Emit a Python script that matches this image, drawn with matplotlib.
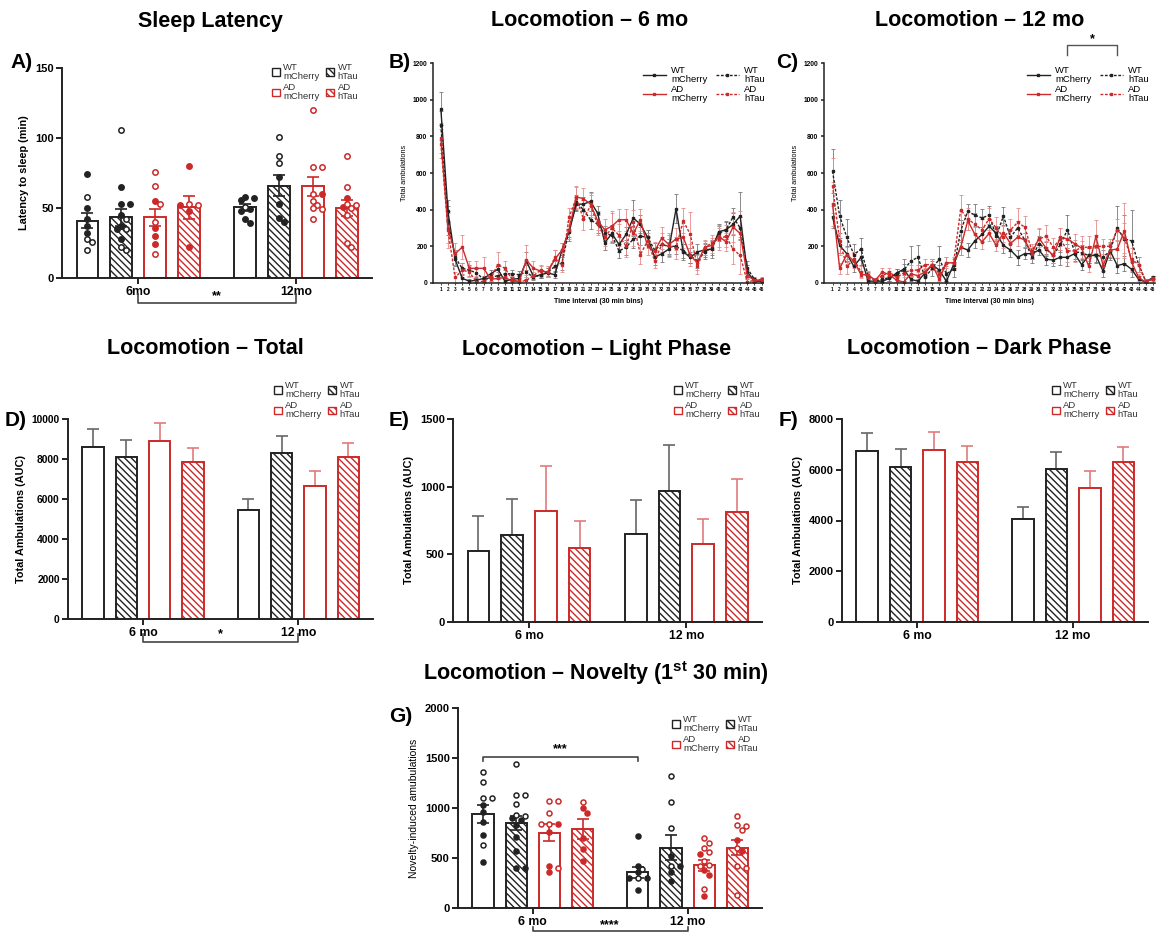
import numpy as np
import matplotlib
matplotlib.use("Agg")
import matplotlib.pyplot as plt
import matplotlib.transforms as mtransforms
from matplotlib.patches import Patch
from matplotlib.lines import Line2D

plt.rcParams['font.family'] = ['Liberation Sans', 'DejaVu Sans']
plt.rcParams['hatch.linewidth'] = 1.0
plt.rcParams['mathtext.fontset'] = 'custom'
plt.rcParams['mathtext.bf'] = 'Liberation Sans:bold'
plt.rcParams['mathtext.rm'] = 'Liberation Sans'

RED = '#cc2a2a'
INK = '#222222'

groups = ['WT\nmCherry', 'WT\nhTau', 'AD\nmCherry', 'AD\nhTau']
ages_a = ['6mo', '12mo']
ages = ['6 mo', '12 mo']

# ---- A) sleep latency (min) ----
lat_6mo_mean = [41, 43.5, 43.5, 50.5]
lat_6mo_sem = [5.5, 6, 6, 8]
lat_12mo_mean = [50.5, 66, 65.5, 50]
lat_12mo_sem = [2.5, 7.5, 7, 5.5]
lat_6mo_filled = [[74, 50, 42, 37, 32], [65, 53, 53, 45, 37, 35, 28], [55, 36, 30, 24], [80, 52, 48, 22]]
lat_6mo_open = [[58, 28, 26, 20], [106, 42, 35, 22, 20], [76, 66, 53, 40, 17], [53, 52]]
lat_12mo_filled = [[56, 57, 58, 49, 48, 42, 39], [72, 53, 43, 40], [60], [57, 51]]
lat_12mo_open = [[51], [101, 87, 82], [120, 79, 79, 60, 55, 52, 50, 49, 42], [87, 65, 53, 52, 50, 45, 25, 22]]

# ---- B) / C) time course, 46 x 30 min bins ----
bins = np.arange(1, 47)
b_wt_mch = [950, 390, 130, 25, 10, 15, 25, 50, 75, 10, 20, 25, 120, 35, 45, 55, 45, 180, 280, 430, 430, 445, 380, 220,
            270, 210, 265, 355, 320, 250, 140, 160, 185, 405, 170, 140, 170, 180, 185, 280, 290, 320, 365, 60, 10, 10]
b_wt_htau = [860, 340, 140, 80, 70, 55, 20, 30, 40, 50, 50, 45, 60, 30, 45, 60, 90, 110, 290, 440, 400, 345, 320, 270,
             260, 175, 195, 240, 255, 250, 180, 210, 200, 200, 175, 150, 120, 170, 190, 270, 290, 360, 300, 80, 20, 15]
b_ad_mch = [790, 300, 160, 195, 80, 80, 80, 20, 25, 30, 10, 10, 125, 80, 65, 60, 130, 180, 290, 470, 460, 430, 340, 290,
            310, 345, 345, 270, 345, 200, 175, 245, 210, 240, 250, 150, 110, 195, 205, 255, 225, 305, 270, 40, 15, 15]
b_ad_htau = [760, 290, 30, 70, 60, 5, 10, 30, 100, 80, 20, 5, 15, 40, 70, 60, 140, 100, 360, 465, 350, 420, 320, 250,
             300, 260, 200, 330, 155, 230, 120, 210, 200, 190, 340, 265, 90, 190, 220, 240, 255, 185, 150, 5, 15, 20]
b_wt_mch_sem = [90, 60, 40, 20, 10, 10, 15, 20, 30, 10, 10, 15, 50, 15, 20, 25, 20, 40, 50, 40, 40, 50, 40, 40,
                45, 40, 40, 100, 50, 40, 40, 45, 40, 80, 45, 30, 40, 40, 50, 40, 40, 60, 130, 40, 10, 10]
b_wt_htau_sem = [80, 80, 40, 30, 30, 20, 15, 20, 20, 20, 20, 20, 40, 15, 20, 20, 30, 40, 40, 40, 50, 50, 50, 40,
                 40, 40, 40, 50, 50, 40, 40, 40, 40, 40, 40, 40, 40, 40, 40, 40, 50, 50, 60, 40, 10, 10]
b_ad_mch_sem = [80, 80, 60, 65, 40, 40, 60, 30, 20, 20, 10, 10, 80, 40, 30, 30, 50, 40, 50, 60, 60, 60, 50, 60,
                80, 60, 60, 70, 60, 50, 50, 60, 60, 60, 60, 60, 40, 40, 40, 60, 50, 80, 120, 30, 10, 10]
b_ad_htau_sem = [80, 100, 30, 40, 30, 10, 10, 20, 70, 40, 20, 10, 20, 20, 30, 30, 40, 40, 50, 60, 60, 60, 60, 50,
                 80, 60, 60, 70, 50, 40, 40, 60, 60, 60, 70, 120, 40, 40, 40, 60, 60, 80, 100, 20, 10, 10]

c_wt_mch = [360, 205, 160, 90, 140, 10, 10, 10, 25, 55, 75, 20, 10, 55, 100, 70, 10, 100, 195, 180, 230, 265, 310, 270,
            205, 180, 140, 160, 160, 180, 130, 125, 140, 140, 160, 100, 150, 150, 65, 175, 95, 105, 75, 20, 5, 30]
c_wt_htau = [610, 365, 250, 155, 185, 40, 10, 20, 30, 45, 70, 120, 140, 30, 80, 130, 50, 75, 285, 390, 370, 355, 370,
             255, 365, 250, 300, 235, 140, 215, 185, 150, 210, 290, 170, 165, 150, 155, 140, 175, 300, 240, 230, 100, 10, 20]
c_ad_mch = [430, 80, 155, 120, 45, 45, 15, 60, 45, 15, 5, 50, 40, 60, 100, 20, 110, 110, 195, 340, 265, 225, 270, 205,
            275, 215, 250, 235, 160, 245, 190, 150, 250, 240, 215, 190, 90, 255, 95, 180, 185, 285, 115, 30, 5, 25]
c_ad_htau = [530, 230, 90, 130, 60, 35, 15, 40, 60, 30, 55, 70, 70, 100, 100, 50, 110, 110, 400, 350, 320, 290, 350,
             300, 250, 290, 330, 305, 175, 240, 255, 195, 240, 175, 175, 195, 195, 200, 200, 200, 290, 245, 130, 100, 10, 20]
c_wt_mch_sem = [60, 40, 40, 30, 40, 10, 10, 10, 15, 20, 30, 10, 10, 20, 30, 30, 10, 30, 40, 40, 40, 40, 40, 40,
                40, 40, 40, 30, 30, 30, 30, 30, 40, 50, 40, 30, 40, 40, 30, 40, 40, 40, 40, 20, 5, 10]
c_wt_htau_sem = [120, 90, 100, 60, 60, 20, 10, 15, 20, 30, 60, 80, 65, 30, 40, 70, 40, 40, 60, 40, 60, 50, 50, 40,
                 50, 40, 40, 40, 30, 40, 40, 40, 40, 80, 40, 40, 40, 40, 40, 50, 120, 130, 170, 40, 10, 20]
c_ad_mch_sem = [120, 30, 40, 40, 20, 20, 10, 20, 20, 10, 5, 20, 20, 20, 30, 10, 30, 30, 40, 50, 40, 40, 40, 30,
                50, 40, 50, 40, 30, 50, 40, 40, 50, 50, 50, 40, 30, 90, 30, 40, 50, 150, 50, 20, 5, 15]
c_ad_htau_sem = [150, 80, 40, 40, 30, 20, 10, 20, 20, 15, 20, 30, 30, 30, 30, 20, 30, 30, 80, 60, 60, 60, 60, 60,
                 60, 60, 80, 60, 40, 60, 60, 50, 60, 60, 60, 60, 60, 60, 40, 40, 60, 80, 60, 40, 10, 20]

# ---- D) / E) / F) AUC ----
tot_mean = [8600, 8100, 8900, 7850, 5450, 8280, 6650, 8100]
tot_sem = [900, 850, 900, 700, 550, 870, 750, 680]
light_mean = [525, 645, 820, 545, 650, 965, 575, 815]
light_sem = [255, 265, 330, 200, 250, 345, 185, 245]
dark_mean = [6750, 6120, 6770, 6300, 4070, 6020, 5270, 6320]
dark_sem = [700, 680, 710, 620, 450, 680, 680, 580]

# ---- G) novelty, first 30 min ----
nov_6mo_mean = [945, 855, 755, 795]
nov_6mo_sem = [90, 70, 85, 100]
nov_12mo_mean = [360, 605, 430, 605]
nov_12mo_sem = [55, 125, 55, 75]
nov_6mo_filled = [[1030, 960, 860, 730, 460], [900, 880, 830, 710, 570, 400, 400], [840, 760, 420, 360],
                  [1000, 950, 700, 590, 470]]
nov_6mo_open = [[1360, 1260, 1100, 1100, 630], [1440, 1130, 1130, 1040, 930, 920], [1070, 1070, 950, 840, 840, 400],
                [1060]]
nov_12mo_filled = [[720, 420, 360, 300, 300, 180], [520, 420, 360, 270], [540, 380, 330, 120], [680, 570]]
nov_12mo_open = [[390, 300], [1320, 1060, 800, 420], [700, 650, 600, 560, 470, 430, 420, 190],
                 [920, 830, 820, 780, 600, 420, 400, 130]]

W, H = 1158, 933
fig = plt.figure(figsize=(W / 100, H / 100), dpi=100)


def px_ax(x0, y0, x1, y1):
    return fig.add_axes([x0 / W, 1 - y1 / H, (x1 - x0) / W, (y1 - y0) / H])


def fig_text(x, y, s, **kw):
    fig.text(x / W, 1 - y / H, s, ha='center', va='center', **kw)


edge_cols = [INK, INK, RED, RED]
light_cols = ['#666666', '#666666', '#e07b7b', '#e07b7b']
hatches = [None, '\\\\\\\\\\', None, '\\\\\\\\\\']
pos = np.array([0, 1, 2, 3, 4.66, 5.66, 6.66, 7.66])
centers = [1.5, 6.16]
XLIM = (-0.75, 8.4)
BW = 0.64


def style_axes(ax, lw=1.4):
    for s in ['top', 'right']:
        ax.spines[s].set_visible(False)
    for s in ['left', 'bottom']:
        ax.spines[s].set_linewidth(lw)
        ax.spines[s].set_color(INK)
    ax.tick_params(direction='out', width=lw, color=INK)


def bar_legend(ax, x, y):
    hs = [Patch(facecolor='white', edgecolor=edge_cols[i], hatch=hatches[i], lw=1.0) for i in range(4)]
    order = [0, 2, 1, 3]
    leg = ax.legend([hs[i] for i in order], [groups[i] for i in order], ncol=2, loc='upper left',
                    bbox_to_anchor=(x / W, 1 - y / H), bbox_transform=fig.transFigure, frameon=False,
                    fontsize=6.8, handlelength=0.8, handleheight=0.8, handletextpad=0.4, columnspacing=0.7,
                    labelspacing=0.3, borderpad=0, borderaxespad=0)
    for t in leg.get_texts():
        t.set_color('#333333')
        t.set_linespacing(0.95)


def bars(ax, means, sems, upper_only):
    for i, (m, s) in enumerate(zip(means, sems)):
        g = i % 4
        ax.bar(pos[i], m, BW, facecolor='white', edgecolor=edge_cols[g], hatch=hatches[g], lw=1.4, zorder=2)
        if upper_only:
            ax.errorbar(pos[i], m, yerr=[[0], [s]], fmt='none', ecolor=light_cols[g], elinewidth=1.2,
                        capsize=4.5, capthick=1.2, zorder=1)
        else:
            ax.errorbar(pos[i], m, yerr=s, fmt='none', ecolor=edge_cols[g], elinewidth=1.2,
                        capsize=4.5, capthick=1.2, zorder=4)


def swarm(vals, ax_w, ax_h, ymax, d=5.2, half=10.0):
    # simple deterministic beeswarm kept inside the bar, returns x offsets in data units
    xs = ax_w / (XLIM[1] - XLIM[0])
    ys = ax_h / ymax
    order = np.argsort(vals)[::-1]
    placed = []
    offs = np.zeros(len(vals))
    step = d * 0.85
    cands = [k * step for k in [0, 1, -1, 2, -2, 3, -3] if abs(k * step) <= half]
    for i in order:
        yp = vals[i] * ys
        best, bestd = 0.0, -1
        for xo in cands:
            md = min([np.hypot(xo - px, yp - py) for px, py in placed] + [99])
            if md >= d:
                best = xo
                break
            if md > bestd:
                best, bestd = xo, md
        placed.append((best, yp))
        offs[i] = best / xs
    return offs


def points(ax, filled, opened, base, ax_w, ax_h, ymax, ms):
    for g in range(4):
        vals = np.array(filled[g] + opened[g], dtype=float)
        kind = [True] * len(filled[g]) + [False] * len(opened[g])
        offs = swarm(vals, ax_w, ax_h, ymax)
        for v, o, k in zip(vals, offs, kind):
            ax.scatter(pos[base + g] + o, v, s=ms, facecolor=edge_cols[g] if k else 'white',
                       edgecolor=edge_cols[g], lw=1.1, zorder=5, clip_on=False)


def bracket(ax, x0, x1, y, tick, label, ty, fs=9):
    tr = mtransforms.blended_transform_factory(ax.transData, ax.transAxes)
    ax.plot([x0, x0, x1, x1], [y + tick, y, y, y + tick], color='#444444', lw=1.2, transform=tr, clip_on=False)
    ax.text((x0 + x1) / 2, ty, label, transform=tr, ha='center', va='center', fontsize=fs, fontweight='bold')


def bar_axis(ax, ymax, yticks, xlabels, ylabel, ylw='bold', yfs=7.8, tfs=8):
    ax.set_xlim(*XLIM)
    ax.set_ylim(0, ymax)
    ax.set_yticks(yticks)
    ax.set_xticks(centers)
    ax.set_xticklabels(xlabels, fontsize=8.8, fontweight='bold')
    for t in ax.get_yticklabels():
        t.set_fontweight('bold')
        t.set_fontsize(tfs)
    ax.set_ylabel(ylabel, fontsize=yfs, fontweight=ylw)
    style_axes(ax)
    ax.tick_params(length=4, pad=2)


# ---- A ----
axA = px_ax(62, 68, 372, 278)
bars(axA, lat_6mo_mean + lat_12mo_mean, lat_6mo_sem + lat_12mo_sem, False)
points(axA, lat_6mo_filled, lat_6mo_open, 0, 310, 210, 150, 15)
points(axA, lat_12mo_filled, lat_12mo_open, 4, 310, 210, 150, 15)
bar_axis(axA, 150, [0, 50, 100, 150], ages_a, 'Latency to sleep (min)')
bar_legend(axA, 272, 63)
bracket(axA, centers[0], centers[1], -0.119, 0.045, '**', -0.085)


# ---- B / C ----
def line_panel(ax, series, sems):
    styles = [(INK, '-'), (INK, (0, (2, 1.2))), (RED, '-'), (RED, (0, (2, 1.2)))]
    ecols = ['#777777', '#777777', '#e58a8a', '#e58a8a']
    for (c, ls), y, e, ec in zip(styles, series, sems, ecols):
        ax.errorbar(bins, y, yerr=e, color=c, ls=ls, lw=1.0, marker='s', ms=2, ecolor=ec,
                    elinewidth=0.6, capsize=1.3, capthick=0.6)
    ax.set_ylim(0, 1200)
    ax.set_yticks(range(0, 1201, 200))
    ax.set_xticks(bins)
    ax.set_xticklabels([str(b) for b in bins], fontsize=3.4, fontweight='bold')
    for t in ax.get_yticklabels():
        t.set_fontweight('bold')
        t.set_fontsize(4.8)
    ax.set_xlabel('Time Interval (30 min bins)', fontsize=5, fontweight='bold', labelpad=4)
    ax.set_ylabel('Total ambulations', fontsize=5.2, labelpad=3)
    style_axes(ax, lw=1.1)
    ax.tick_params(axis='y', length=2.5, pad=1.5)
    ax.tick_params(axis='x', length=1.5, pad=1.5, width=0.6)


def line_legend(ax, x, y):
    styles = [(INK, '-'), (INK, (0, (2, 1.2))), (RED, '-'), (RED, (0, (2, 1.2)))]
    hs = [Line2D([], [], color=c, ls=ls, lw=1.0, marker='s', ms=2) for c, ls in styles]
    order = [0, 2, 1, 3]
    leg = ax.legend([hs[i] for i in order], [groups[i] for i in order], ncol=2, loc='upper left',
                    bbox_to_anchor=(x / W, 1 - y / H), bbox_transform=fig.transFigure, frameon=False,
                    fontsize=6.8, handlelength=2.4, handletextpad=0.6, columnspacing=0.9,
                    labelspacing=0.15, borderpad=0, borderaxespad=0)
    for t in leg.get_texts():
        t.set_linespacing(0.95)


axB = px_ax(433, 63, 763, 283)
line_panel(axB, [b_wt_mch, b_wt_htau, b_ad_mch, b_ad_htau],
           [b_wt_mch_sem, b_wt_htau_sem, b_ad_mch_sem, b_ad_htau_sem])
axB.set_xlim(-0.1, 46.2)
line_legend(axB, 643, 66)

axC = px_ax(824, 63, 1155, 283)
line_panel(axC, [c_wt_mch, c_wt_htau, c_ad_mch, c_ad_htau],
           [c_wt_mch_sem, c_wt_htau_sem, c_ad_mch_sem, c_ad_htau_sem])
axC.set_xlim(-0.2, 46.3)
line_legend(axC, 1027, 66)
trC = mtransforms.blended_transform_factory(axC.transData, axC.transAxes)
axC.plot([34, 34, 41, 41], [1.036, 1.082, 1.082, 1.036], color='#555555', lw=1.0, transform=trC, clip_on=False)
axC.text(37.5, 1.11, '*', transform=trC, ha='center', va='center', fontsize=9, fontweight='bold')

# ---- D / E / F ----
axD = px_ax(68, 419, 373, 619)
bars(axD, tot_mean, tot_sem, True)
bar_axis(axD, 10000, range(0, 10001, 2000), ages, 'Total Ambulations (AUC)', tfs=7.4)
bar_legend(axD, 274, 381)
bracket(axD, centers[0], centers[1], -0.115, 0.04, '*', -0.075)

axE = px_ax(453, 419, 762, 622)
bars(axE, light_mean, light_sem, True)
bar_axis(axE, 1500, [0, 500, 1000, 1500], ages, 'Total Ambulations (AUC)')
bar_legend(axE, 674, 381)

axF = px_ax(842, 419, 1148, 622)
bars(axF, dark_mean, dark_sem, True)
bar_axis(axF, 8000, range(0, 8001, 2000), ages, 'Total Ambulations (AUC)')
bar_legend(axF, 1052, 381)

# ---- G ----
axG = px_ax(458, 708, 762, 908)
bars(axG, nov_6mo_mean + nov_12mo_mean, nov_6mo_sem + nov_12mo_sem, False)
points(axG, nov_6mo_filled, nov_6mo_open, 0, 304, 200, 2000, 13)
points(axG, nov_12mo_filled, nov_12mo_open, 4, 304, 200, 2000, 13)
bar_axis(axG, 2000, range(0, 2001, 500), ages, 'Novelty-induced amubulations', ylw='normal', yfs=7.5)
bar_legend(axG, 672, 715)
bracket(axG, pos[0], pos[4], 0.755, -0.02, '***', 0.795)
bracket(axG, centers[0], centers[1], -0.115, 0.02, '****', -0.088)

# ---- titles and panel letters ----
tfs = 15.5
fig_text(210, 21, 'Sleep Latency', fontsize=tfs, fontweight='bold')
fig_text(590, 21, 'Locomotion – 6 mo', fontsize=tfs, fontweight='bold')
fig_text(980, 21, 'Locomotion – 12 mo', fontsize=tfs, fontweight='bold')
fig_text(205, 349, 'Locomotion – Total', fontsize=tfs, fontweight='bold')
fig_text(597, 349, 'Locomotion – Light Phase', fontsize=tfs, fontweight='bold')
fig_text(979, 349, 'Locomotion – Dark Phase', fontsize=tfs, fontweight='bold')
fig_text(596, 673, r'Locomotion – Novelty (1$^{\mathbf{st}}$ 30 min)', fontsize=tfs, fontweight='bold')

for lab, x, y in [('A)', 22, 63), ('B)', 400, 63), ('C)', 787, 63), ('D)', 16, 420),
                  ('E)', 399, 420), ('F)', 789, 420), ('G)', 401, 716)]:
    fig_text(x, y, lab, fontsize=15, fontweight='bold')

fig.savefig('out.png', dpi=100)
